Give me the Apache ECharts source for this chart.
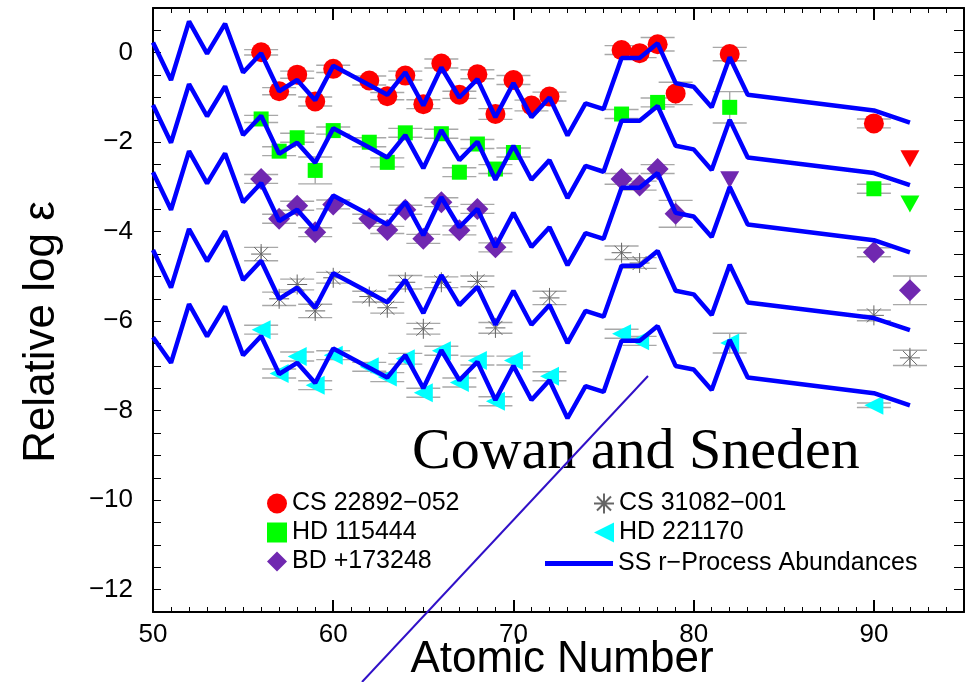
<!DOCTYPE html>
<html>
<head>
<meta charset="utf-8">
<script src="https://cdn.jsdelivr.net/npm/echarts@6/dist/echarts.min.js"></script>
<style>
html,body{margin:0;padding:0;background:#fff;}
#chart{width:967px;height:682px;}
</style>
</head>
<body>
<div id="chart"></div>
<script>
// ---- Data ----
const Z_SS = [50,51,52,53,54,55,56,57,58,59,60,62,63,64,65,66,67,68,69,70,71,72,73,74,75,76,77,78,79,80,81,82,83,90,92];
const ssCS22892 = [0.23,-0.61,0.70,-0.02,0.65,-0.44,-0.01,-0.86,-0.61,-1.06,-0.29,-0.72,-0.94,-0.44,-1.18,-0.33,-1.00,-0.59,-1.44,-0.68,-1.44,-1.00,-1.85,-1.13,-1.26,-0.12,-0.12,0.21,-0.68,-0.76,-1.22,-0.10,-0.94,-1.29,-1.56];
const ssHD115444 = [-1.17,-2.01,-0.70,-1.42,-0.75,-1.84,-1.41,-2.26,-2.01,-2.46,-1.69,-2.12,-2.34,-1.84,-2.58,-1.73,-2.40,-1.99,-2.84,-2.08,-2.84,-2.40,-3.25,-2.53,-2.66,-1.52,-1.52,-1.19,-2.08,-2.16,-2.62,-1.50,-2.34,-2.69,-2.96];
const ssBD173248 = [-2.67,-3.51,-2.20,-2.92,-2.25,-3.34,-2.91,-3.76,-3.51,-3.96,-3.19,-3.62,-3.84,-3.34,-4.08,-3.23,-3.90,-3.49,-4.34,-3.58,-4.34,-3.90,-4.75,-4.03,-4.16,-3.02,-3.02,-2.69,-3.58,-3.66,-4.12,-3.00,-3.84,-4.19,-4.46];
const ssCS31082 = [-4.41,-5.25,-3.94,-4.66,-3.99,-5.08,-4.65,-5.50,-5.25,-5.70,-4.93,-5.36,-5.58,-5.08,-5.82,-4.97,-5.64,-5.23,-6.08,-5.32,-6.08,-5.64,-6.49,-5.77,-5.90,-4.76,-4.76,-4.43,-5.32,-5.40,-5.86,-4.74,-5.58,-5.93,-6.20];
const ssHD221170 = [-6.36,-6.93,-5.62,-6.34,-5.67,-6.76,-6.33,-7.18,-6.93,-7.38,-6.61,-7.04,-7.26,-6.76,-7.50,-6.65,-7.32,-6.91,-7.76,-7.00,-7.76,-7.32,-8.17,-7.45,-7.58,-6.44,-6.44,-6.11,-7.00,-7.08,-7.54,-6.42,-7.26,-7.61,-7.88];

const csZ   = [56,57,58,59,60,62,63,64,65,66,67,68,69,70,71,72,76,77,78,79,82,90];
const csVal = [0.01,-0.86,-0.49,-1.09,-0.36,-0.62,-0.97,-0.51,-1.15,-0.24,-0.94,-0.48,-1.37,-0.61,-1.18,-0.98,0.06,-0.01,0.19,-0.91,-0.03,-1.58];
const csErr = [0.06,0.08,0.08,0.1,0.08,0.1,0.08,0.1,0.1,0.1,0.08,0.1,0.12,0.1,0.12,0.1,0.1,0.1,0.15,0.25,0.15,0.1];
const csLimZ = [92], csLimVal = [-2.37];

const hdZ   = [56,57,58,59,60,62,63,64,66,67,68,69,70,76,78,82,90];
const hdVal = [-1.48,-2.20,-1.90,-2.63,-1.74,-2.00,-2.45,-1.79,-1.81,-2.67,-2.04,-2.60,-2.23,-1.37,-1.11,-1.22,-3.04];
const hdErr = [0.08,0.1,0.1,0.3,0.08,0.1,0.1,0.1,0.1,0.1,0.1,0.1,0.1,0.1,0.1,0.35,0.1];
const hdLimZ = [92], hdLimVal = [-3.38];

const bdZ   = [56,57,58,59,60,62,63,64,65,66,67,68,69,76,77,78,79,90,92];
const bdVal = [-2.82,-3.71,-3.42,-4.01,-3.39,-3.71,-3.96,-3.51,-4.16,-3.34,-3.97,-3.49,-4.35,-2.82,-2.97,-2.60,-3.60,-4.46,-5.31];
const bdErr = [0.1,0.1,0.1,0.1,0.1,0.1,0.08,0.1,0.1,0.1,0.1,0.1,0.1,0.12,0.1,0.1,0.3,0.1,0.32];
const bdLimZ = [82], bdLimVal = [-2.84];

const c31Z   = [56,57,58,59,60,62,63,64,65,66,68,69,72,76,77,90,92];
const c31Val = [-4.50,-5.50,-5.18,-5.77,-5.03,-5.45,-5.70,-5.13,-6.17,-5.13,-5.11,-6.15,-5.48,-4.47,-4.70,-5.87,-6.82];
const c31Err = [0.15,0.15,0.12,0.15,0.12,0.12,0.12,0.15,0.12,0.12,0.12,0.12,0.15,0.15,0.12,0.12,0.17];

const h22Z   = [56,57,58,59,60,62,63,64,65,66,67,68,69,70,72,76,77,82,90];
const h22Val = [-6.19,-7.17,-6.79,-7.43,-6.76,-7.02,-7.25,-6.84,-7.60,-6.66,-7.37,-6.88,-7.79,-6.88,-7.23,-6.28,-6.44,-6.49,-7.88];
const h22Err = [0.1,0.1,0.1,0.1,0.1,0.1,0.1,0.12,0.1,0.1,0.1,0.1,0.1,0.1,0.1,0.1,0.1,0.22,0.05];

const xTickValues = [50,60,70,80,90];
const yTickValues = [0,-2,-4,-6,-8,-10,-12];

// ---- Styles ----
const FONT = '"Liberation Sans", Arial, Helvetica, sans-serif';
const SYM_DOWN = 'path://M0,0 L10,0 L5,9 Z';
const SYM_LEFT = 'path://M0,5 L10,0 L10,10 Z';
const SYM_AST = 'path://M10,0 L10,20 M0,10 L20,10 M3,3 L17,17 M3,17 L17,3';

function pairs(xs, ys){ return xs.map((x,i)=>[x, ys[i]]); }
function triples(xs, ys, es){ return xs.map((x,i)=>[x, ys[i], es[i]]); }

function errSeries(xs, ys, es){
  return {
    type:'custom', silent:true, z:1, xAxisIndex:0, yAxisIndex:0,
    data: triples(xs, ys, es),
    encode:{x:0, y:1},
    renderItem:function(params, api){
      const x = api.value(0), y = api.value(1), e = api.value(2);
      const p0 = api.coord([x, y+e]), p1 = api.coord([x, y-e]);
      const hw = 17;
      const st = {stroke:'#a8a8a8', lineWidth:1.4};
      return {type:'group', children:[
        {type:'line', shape:{x1:p0[0], y1:p0[1], x2:p1[0], y2:p1[1]}, style:st},
        {type:'line', shape:{x1:p0[0]-hw, y1:p0[1], x2:p0[0]+hw, y2:p0[1]}, style:st},
        {type:'line', shape:{x1:p1[0]-hw, y1:p1[1], x2:p1[0]+hw, y2:p1[1]}, style:st}
      ]};
    }
  };
}

function limitItems(xs, ys, size){
  return xs.map((x,i)=>({value:[x, ys[i]], symbol:SYM_DOWN, symbolSize:size}));
}

const SS_NAME = 'SS r\u2212Process Abundances';
function ssLine(arr){
  return {
    name: SS_NAME, type:'line', z:5, xAxisIndex:0, yAxisIndex:0,
    data: pairs(Z_SS, arr), showSymbol:false, symbol:'none', silent:true,
    lineStyle:{color:'#0000ff', width:4.5}, itemStyle:{color:'#0000ff'},
    animation:false
  };
}

const chart = echarts.init(document.getElementById('chart'), null, {renderer:'canvas'});

const option = {
  animation:false,
  backgroundColor:'#ffffff',
  grid:{left:153, top:8, right:1, bottom:70, containLabel:false},
  xAxis:[
    {type:'value', min:50, max:95, interval:10, position:'bottom',
     axisLine:{show:true, onZero:false, lineStyle:{color:'#000', width:2}},
     axisTick:{show:true, inside:true, length:12, lineStyle:{color:'#000', width:2}},
     axisLabel:{show:true, margin:10, color:'#000', fontSize:26, fontFamily:FONT,
       formatter:function(v){ return xTickValues.indexOf(v) >= 0 ? String(v) : ''; }},
     splitLine:{show:false}},
    {type:'value', min:50, max:95, interval:1, position:'bottom',
     axisLine:{show:false, onZero:false},
     axisTick:{show:true, inside:true, length:5, lineStyle:{color:'#000', width:1}},
     axisLabel:{show:false}, splitLine:{show:false}},
    {type:'value', min:50, max:95, interval:10, position:'top',
     axisLine:{show:true, onZero:false, lineStyle:{color:'#000', width:2}},
     axisTick:{show:true, inside:true, length:12, lineStyle:{color:'#000', width:2}},
     axisLabel:{show:false}, splitLine:{show:false}},
    {type:'value', min:50, max:95, interval:1, position:'top',
     axisLine:{show:false, onZero:false},
     axisTick:{show:true, inside:true, length:5, lineStyle:{color:'#000', width:1}},
     axisLabel:{show:false}, splitLine:{show:false}}
  ],
  yAxis:[
    {type:'value', min:-12.5, max:1, interval:0.5, position:'left',
     axisLine:{show:true, onZero:false, lineStyle:{color:'#000', width:2}},
     axisTick:{show:true, inside:true, length:8, lineStyle:{color:'#000', width:1}},
     axisLabel:{show:true, interval:0, margin:20, color:'#000', fontSize:26, fontFamily:FONT,
       formatter:function(v){
         const r = Math.round(v*10)/10;
         if (yTickValues.indexOf(r) < 0) return '';
         return r < 0 ? '\u2212' + String(-r) : String(r);
       }},
     splitLine:{show:false}},
    {type:'value', min:-12.5, max:1, interval:0.5, position:'right',
     axisLine:{show:true, onZero:false, lineStyle:{color:'#000', width:2}},
     axisTick:{show:true, inside:true, length:10, lineStyle:{color:'#000', width:1}},
     axisLabel:{show:false}, splitLine:{show:false}}
  ],
  legend:[
    {orient:'vertical', left:262, top:486, itemWidth:20, itemHeight:20, itemGap:4,
     textStyle:{fontSize:25, color:'#000', fontFamily:FONT}, selectedMode:false,
     data:['CS 22892\u2212052','HD 115444','BD +173248']},
    {orient:'vertical', left:588, top:486, itemWidth:20, itemHeight:20, itemGap:4,
     textStyle:{fontSize:25, color:'#000', fontFamily:FONT}, selectedMode:false,
     data:['CS 31082\u2212001','HD 221170']},
    {orient:'vertical', left:540, top:546, itemWidth:68, itemHeight:5, itemGap:4,
     textStyle:{fontSize:25, color:'#000', fontFamily:FONT}, selectedMode:false,
     data:[{name:SS_NAME, icon:'rect', itemStyle:{color:'#0000ff'}}]}
  ],
  series:[
    errSeries(csZ, csVal, csErr),
    errSeries(hdZ, hdVal, hdErr),
    errSeries(bdZ, bdVal, bdErr),
    errSeries(c31Z, c31Val, c31Err),
    errSeries(h22Z, h22Val, h22Err),
    {name:'CS 22892\u2212052', type:'scatter', z:3, symbol:'circle', symbolSize:20,
     itemStyle:{color:'#ff0000', opacity:1},
     data: pairs(csZ, csVal).concat(limitItems(csLimZ, csLimVal, [19,17]))},
    {name:'HD 115444', type:'scatter', z:3, symbol:'rect', symbolSize:15,
     itemStyle:{color:'#00ff00', opacity:1},
     data: pairs(hdZ, hdVal).concat(limitItems(hdLimZ, hdLimVal, [19,17]))},
    {name:'BD +173248', type:'scatter', z:3, symbol:'diamond', symbolSize:22,
     itemStyle:{color:'#7028b0', opacity:1},
     data: pairs(bdZ, bdVal).concat(limitItems(bdLimZ, bdLimVal, [19,17]))},
    {name:'CS 31082\u2212001', type:'scatter', z:3, symbol:SYM_AST, symbolSize:20,
     itemStyle:{color:'rgba(0,0,0,0)', borderColor:'#666666', borderWidth:1, opacity:1},
     data: pairs(c31Z, c31Val)},
    {name:'HD 221170', type:'scatter', z:3, symbol:SYM_LEFT, symbolSize:[19,19],
     itemStyle:{color:'#00ffff', opacity:1},
     data: pairs(h22Z, h22Val)},
    ssLine(ssCS22892),
    ssLine(ssHD115444),
    ssLine(ssBD173248),
    ssLine(ssCS31082),
    ssLine(ssHD221170)
  ],
  graphic:[
    {type:'text', z:100, left:412, top:424,
     style:{text:'Cowan and Sneden', font:'58px "Liberation Serif", "Times New Roman", serif', fill:'#000'}},
    {type:'text', z:100, x:562, y:660,
     style:{text:'Atomic Number', font:'44px ' + FONT, fill:'#000', align:'center', verticalAlign:'middle'}},
    {type:'text', z:100, x:42, y:332, rotation:Math.PI/2,
     style:{text:'Relative log \u03b5', font:'44px ' + FONT, fill:'#000', align:'center', verticalAlign:'middle'}},
    {type:'line', z:110, shape:{x1:648, y1:376, x2:362, y2:682},
     style:{stroke:'#3010c8', lineWidth:2}}
  ]
};
chart.setOption(option);
</script>
</body>
</html>
